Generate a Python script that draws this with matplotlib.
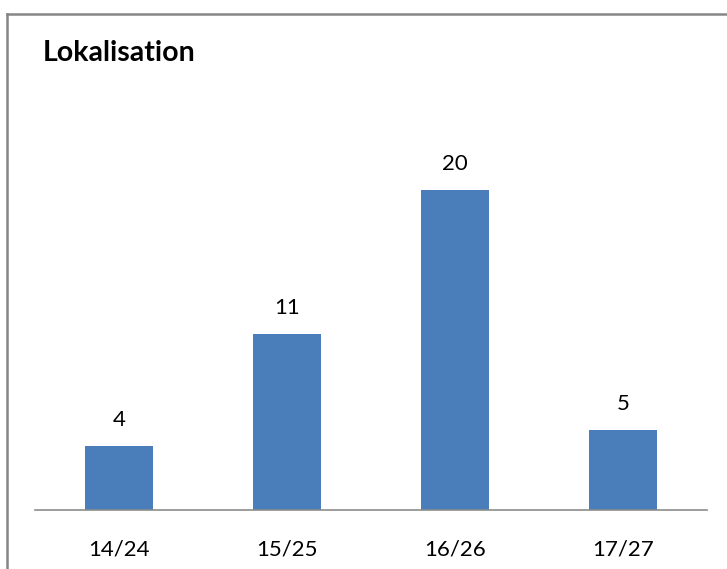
import matplotlib.pyplot as plt
from matplotlib.lines import Line2D

categories = ["14/24", "15/25", "16/26", "17/27"]
counts = [4, 11, 20, 5]

plt.rcParams['font.family'] = ['Lato', 'DejaVu Sans']

W, H = 727, 569
fig = plt.figure(figsize=(W / 100, H / 100), dpi=100)

# plot area: baseline at y=510 px, 16 px per unit
ax = fig.add_axes([35 / W, (H - 510) / H, 672 / W, 400 / H])
x = range(len(categories))
bars = ax.bar(x, counts, width=0.4, color="#4A7EBB")
ax.set_xlim(-0.5, 3.5)
ax.set_ylim(0, 25)

for b, v in zip(bars, counts):
    ax.annotate(str(v), (b.get_x() + b.get_width() / 2, v),
                xytext=(0, 11.5), textcoords="offset points",
                ha="center", va="bottom", fontsize=16)

for s in ["top", "right", "left"]:
    ax.spines[s].set_visible(False)
ax.spines["bottom"].set_color("#8C8C8C")
ax.spines["bottom"].set_linewidth(1.2)
ax.set_yticks([])
ax.set_xticks(list(x))
ax.set_xticklabels(categories, fontsize=16)
ax.tick_params(axis="x", length=0, pad=21)

# chart frame (top and left edges)
fig.add_artist(Line2D([7 / W, 1.0], [1 - 14 / H, 1 - 14 / H],
                      color="#868686", linewidth=1.8, transform=fig.transFigure))
fig.add_artist(Line2D([7 / W, 7 / W], [0, 1 - 14 / H],
                      color="#868686", linewidth=1.8, transform=fig.transFigure))

fig.text(43 / W, 1 - 53 / H, "Lokalisation", fontsize=20.5, fontweight="bold",
         ha="left", va="center")

fig.savefig("out.png", dpi=100)
